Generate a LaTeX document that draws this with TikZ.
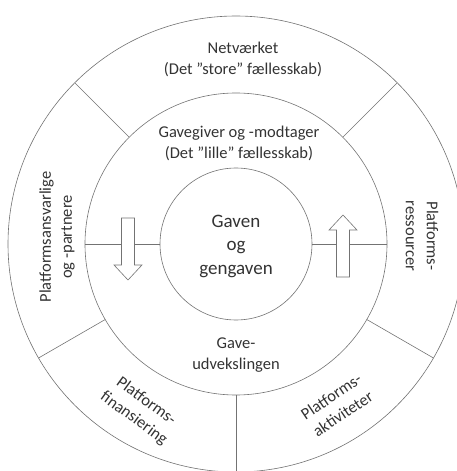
\documentclass[tikz,border=0pt]{standalone}
\usepackage{fontspec}
\setmainfont{Carlito}
\begin{document}
\begin{tikzpicture}[x=1pt,y=1pt,
  ln/.style={draw=black!55, line width=0.6pt},
  lbl/.style={align=center, text=black!80, font=\fontsize{16.5}{21}\selectfont, inner sep=0pt},
  big/.style={align=center, text=black!80, font=\fontsize{19}{23.5}\selectfont, inner sep=0pt},
  arr/.style={draw=black!55, line width=0.6pt, fill=white, line join=miter}]
\useasboundingbox (-236,-227) rectangle (221,244);
\clip (-236,-227) rectangle (221,244);
% rings
\draw[ln] (0,0) circle (228pt);
\draw[ln] (0,0) circle (151pt);
\draw[ln] (0,0) circle (76pt);
% dividers
\foreach \a in {45,135,210,270,330} \draw[ln] (\a:151) -- (\a:228);
\draw[ln] (0:76) -- (0:151);
\draw[ln] (180:76) -- (180:151);
% arrows
\draw[arr] (-114.5,26) -- (-101.5,26) -- (-101.5,-21) -- (-94,-21) -- (-108,-36) -- (-122,-21) -- (-114.5,-21) -- cycle;
\draw[arr] (100.5,-33) -- (113.5,-33) -- (113.5,14) -- (121,14) -- (107,29) -- (93,14) -- (100.5,14) -- cycle;
% labels
\node[lbl] (net) at (7,185) {Netværket\\(Det ”store” fællesskab)};
\node[lbl] (giver) at (3,101) {Gavegiver og -modtager\\(Det ”lille” fællesskab)};
\node[big] (gave) at (0,-2) {Gaven\\og\\gengaven};
\node[lbl] (udv) at (0,-111) {Gave-\\udvekslingen};
\node[lbl, rotate=90] (ansv) at (-179,7) {Platformsansvarlige\\og -partnere};
\node[lbl, rotate=-90] (res) at (186,8) {Platforms-\\ressourcer};
\node[lbl, rotate=-36] (fin) at (-96,-166) {Platforms-\\finansiering};
\node[lbl, rotate=34] (akt) at (101,-161) {Platforms-\\aktiviteter};
\end{tikzpicture}
\end{document}
